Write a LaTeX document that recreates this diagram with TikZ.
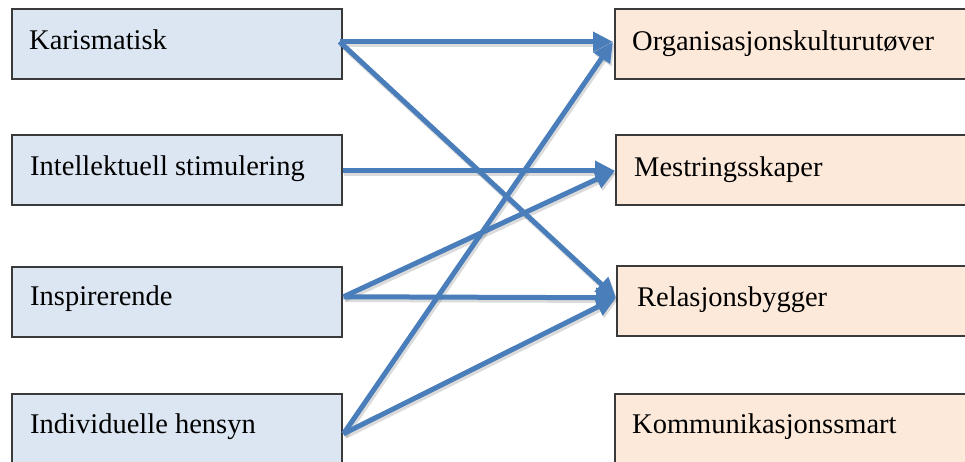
\documentclass[tikz,border=0pt]{standalone}
\usepackage{fontspec}
\setmainfont{Liberation Serif}
\usetikzlibrary{arrows.meta,calc}
\definecolor{leftfill}{HTML}{DCE6F2}
\definecolor{rightfill}{HTML}{FDE9D9}
\definecolor{boxline}{HTML}{3A3A3A}
\definecolor{arrowblue}{HTML}{4A7EBB}
\tikzset{
  lbox/.style={draw=boxline, line width=1.5pt, fill=leftfill, rectangle,
    minimum width=330pt, minimum height=70pt, inner sep=0pt, anchor=north west},
  rbox/.style={draw=boxline, line width=1.5pt, fill=rightfill, rectangle,
    minimum width=380pt, minimum height=70pt, inner sep=0pt, anchor=north west},
  lbl/.style={anchor=base west, inner sep=0pt,
    font=\fontsize{28.5}{34}\selectfont},
  link/.style={draw=arrowblue, line width=5pt,
    -{Triangle[length=20pt,width=19pt]}},
  linkshadow/.style={draw=black, opacity=0.14, line width=5.5pt,
    -{Triangle[length=20pt,width=19pt]}, transform canvas={shift={(1.5pt,-2.5pt)}}}
}
\begin{document}
\begin{tikzpicture}[x=1pt,y=-1pt]
\useasboundingbox (0,0) rectangle (965,461);
\clip (0,0) rectangle (965,461);
\fill[white] (0,0) rectangle (965,461);

% left column
\node[lbox] (k) at (11,8) {};
\node[lbox] (i) at (11,134) {};
\node[lbox] (p) at (11,266) {};
\node[lbox] (h) at (11,393) {};
\node[lbl] (kt) at (29,49) {Karismatisk};
\node[lbl] (it) at (30,175) {Intellektuell stimulering};
\node[lbl] (pt) at (30,305) {Inspirerende};
\node[lbl] (ht) at (30,433) {Individuelle hensyn};

% right column
\node[rbox] (o) at (614,8) {};
\node[rbox] (m) at (615,134) {};
\node[rbox] (r) at (616,265) {};
\node[rbox] (c) at (614,393) {};
\node[lbl] (ot) at (632,50) {Organisasjonskulturutøver};
\node[lbl] (mt) at (634,176) {Mestringsskaper};
\node[lbl] (rt) at (637,306) {Relasjonsbygger};
\node[lbl] (ct) at (632,433) {Kommunikasjonssmart};

% connector end points
\coordinate (ks) at ($(k.east)+(-3,-2)$);
\coordinate (is) at ($(i.east)+(0,1)$);
\coordinate (ps) at ($(p.east)+(1,-5)$);
\coordinate (hs) at ($(h.east)+(1,5)$);
\coordinate (oe) at ($(o.west)+(-1,-2)$);
\coordinate (me) at ($(m.west)+(0,1)$);
\coordinate (re) at ($(r.west)+(0,-3)$);

% shadows
\foreach \a/\b in {ks/oe, ks/re, is/me, ps/me, ps/re, hs/oe, hs/re}
  \draw[linkshadow] (\a) -- (\b);
% connectors
\foreach \a/\b in {ks/oe, ks/re, is/me, ps/me, ps/re, hs/oe, hs/re}
  \draw[link] (\a) -- (\b);
\end{tikzpicture}
\end{document}
